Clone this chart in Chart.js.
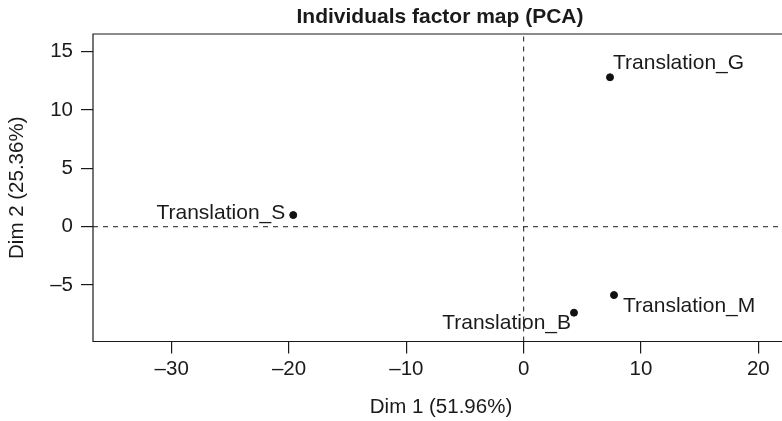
<!DOCTYPE html>
<html>
<head>
<meta charset="utf-8">
<script src="https://cdn.jsdelivr.net/npm/chart.js@4/dist/chart.umd.min.js"></script>
<style>
  html, body { margin: 0; padding: 0; background: #fff; }
  #wrap { width: 782px; height: 421px; }
</style>
</head>
<body>
<div id="wrap"><canvas id="pca" width="782" height="421"></canvas></div>
<script>
// individuals and their coordinates on Dim 1 / Dim 2
const names = ['Translation_G', 'Translation_S', 'Translation_M', 'Translation_B'];
const dim1 = [7.36, -19.64, 7.70, 4.29];
const dim2 = [12.81, 1.0, -5.86, -7.37];
const xTicks = [-30, -20, -10, 0, 10, 20];
const yTicks = [-5, 0, 5, 10, 15];
const xRange = [-36.71, 22.02];
const yRange = [-9.84, 16.52];

const ink = '#1a1a1a';
const fontFam = '"Liberation Sans", Arial, sans-serif';

// label placement relative to point: dx, dy, align
const labelPos = [[3, -14, 'left'], [-8, -2, 'right'], [9, 11, 'left'], [-3, 11, 'right']];

function fmt(v) { return v < 0 ? '\u2013' + Math.abs(v) : String(v); }

const frameAndText = {
  id: 'frameAndText',
  afterDatasetsDraw(chart) {
    const { ctx, chartArea: a } = chart;
    ctx.save();
    ctx.strokeStyle = ink;
    ctx.lineWidth = 1.2;
    ctx.beginPath();
    ctx.moveTo(a.right + 2, a.top); ctx.lineTo(a.left, a.top);
    ctx.lineTo(a.left, a.bottom); ctx.lineTo(a.right + 2, a.bottom);
    ctx.stroke();

    // point labels
    const meta = chart.getDatasetMeta(2);
    ctx.fillStyle = ink;
    ctx.font = '21px ' + fontFam;
    ctx.textBaseline = 'middle';
    meta.data.forEach((pt, i) => {
      const [dx, dy, al] = labelPos[i];
      ctx.textAlign = al;
      ctx.fillText(names[i], pt.x + dx, pt.y + dy);
    });

    // title
    ctx.font = 'bold 21px ' + fontFam;
    ctx.textAlign = 'center';
    ctx.textBaseline = 'alphabetic';
    ctx.fillText('Individuals factor map (PCA)', 440, 23);

    // axis titles
    ctx.textBaseline = 'middle';
    ctx.font = '20.5px ' + fontFam;
    ctx.fillText('Dim 1 (51.96%)', 441, 407);
    ctx.save();
    ctx.translate(17, (a.top + a.bottom) / 2);
    ctx.rotate(-Math.PI / 2);
    ctx.fillText('Dim 2 (25.36%)', 0, 0);
    ctx.restore();
    ctx.restore();
  }
};

new Chart(document.getElementById('pca'), {
  type: 'scatter',
  data: {
    datasets: [
      {
        type: 'line',
        data: [{ x: xRange[0], y: 0 }, { x: xRange[1], y: 0 }],
        borderColor: ink, borderWidth: 1, borderDash: [5, 5], pointRadius: 0, fill: false
      },
      {
        type: 'line',
        data: [{ x: 0, y: yRange[0] }, { x: 0, y: yRange[1] }],
        borderColor: ink, borderWidth: 1, borderDash: [5, 5], pointRadius: 0, fill: false
      },
      {
        data: dim1.map((x, i) => ({ x, y: dim2[i] })),
        backgroundColor: '#111', borderColor: '#111', pointRadius: 3.5, pointHoverRadius: 3.5
      }
    ]
  },
  plugins: [frameAndText],
  options: {
    responsive: false,
    animation: false,
    events: [],
    layout: { autoPadding: false, padding: { top: 34, right: 0, left: 0, bottom: 0 } },
    plugins: { legend: { display: false }, tooltip: { enabled: false } },
    scales: {
      x: {
        type: 'linear', min: xRange[0], max: xRange[1],
        afterBuildTicks: s => { s.ticks = xTicks.map(v => ({ value: v })); },
        afterFit: s => { s.height = 79.5; s.paddingLeft = 0; s.paddingRight = 0; },
        border: { display: false },
        grid: { drawOnChartArea: false, drawTicks: true, tickLength: 12, color: ink, lineWidth: 1.2 },
        ticks: { color: ink, font: { family: fontFam, size: 20.5 }, padding: 4, maxRotation: 0, autoSkip: false, callback: v => fmt(v) }
      },
      y: {
        type: 'linear', min: yRange[0], max: yRange[1],
        afterBuildTicks: s => { s.ticks = yTicks.map(v => ({ value: v })); },
        afterFit: s => { s.width = 93; s.paddingTop = 0; s.paddingBottom = 0; },
        border: { display: false },
        grid: { drawOnChartArea: false, drawTicks: true, tickLength: 12, color: ink, lineWidth: 1.2 },
        ticks: { color: ink, font: { family: fontFam, size: 20.5 }, padding: 8, autoSkip: false, callback: v => fmt(v) }
      }
    }
  }
});
</script>
</body>
</html>
